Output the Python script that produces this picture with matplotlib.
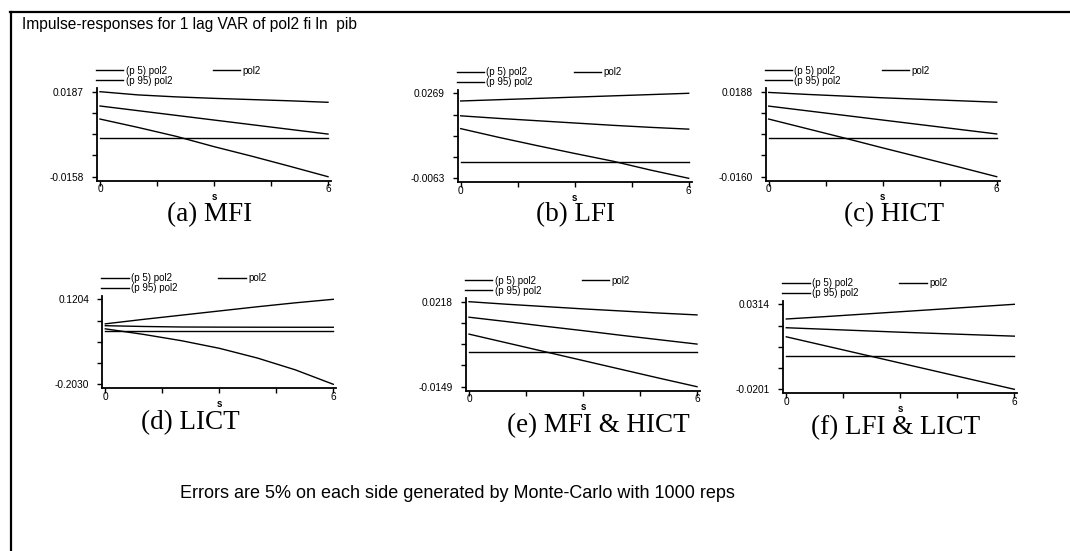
import numpy as np
import matplotlib
matplotlib.use("Agg")
import matplotlib.pyplot as plt
from matplotlib.lines import Line2D

plt.rcParams["font.family"] = ["Liberation Sans", "DejaVu Sans"]

# impulse response step
steps = [0, 1, 2, 3, 4, 5, 6]

captions = ["(a) MFI", "(b) LFI", "(c) HICT", "(d) LICT", "(e) MFI & HICT", "(f) LFI & LICT"]

# upper band (p95), response (pol2), lower band (p5) for each panel
mfi_p95 = [0.0187, 0.0174, 0.0166, 0.0160, 0.0155, 0.0150, 0.0144]
mfi_irf = [0.0129, 0.0110, 0.0091, 0.0072, 0.0053, 0.0034, 0.0015]
mfi_p5 = [0.0076, 0.0042, 0.0006, -0.0036, -0.0075, -0.0116, -0.0158]

lfi_p95 = [0.0239, 0.0244, 0.0249, 0.0254, 0.0259, 0.0264, 0.0269]
lfi_irf = [0.0181, 0.0171, 0.0162, 0.0153, 0.0144, 0.0136, 0.0129]
lfi_p5 = [0.0131, 0.0097, 0.0065, 0.0034, 0.0004, -0.0031, -0.0063]

hict_p95 = [0.0185, 0.0177, 0.0170, 0.0163, 0.0157, 0.0151, 0.0145]
hict_irf = [0.0129, 0.0110, 0.0091, 0.0072, 0.0053, 0.0034, 0.0015]
hict_p5 = [0.0076, 0.0037, -0.0002, -0.0042, -0.0081, -0.0120, -0.0160]

lict_p95 = [0.0270, 0.0440, 0.0600, 0.0760, 0.0920, 0.1070, 0.1204]
lict_irf = [0.0200, 0.0170, 0.0150, 0.0145, 0.0142, 0.0140, 0.0140]
lict_p5 = [0.0080, -0.0130, -0.0370, -0.0660, -0.1030, -0.1480, -0.2030]

mh_p95 = [0.0218, 0.0207, 0.0197, 0.0187, 0.0178, 0.0169, 0.0161]
mh_irf = [0.0151, 0.0132, 0.0112, 0.0093, 0.0073, 0.0054, 0.0035]
mh_p5 = [0.0078, 0.0040, 0.0002, -0.0036, -0.0074, -0.0112, -0.0149]

ll_p95 = [0.0225, 0.0239, 0.0254, 0.0269, 0.0284, 0.0299, 0.0314]
ll_irf = [0.0172, 0.0163, 0.0154, 0.0145, 0.0137, 0.0129, 0.0121]
ll_p5 = [0.0117, 0.0064, 0.0011, -0.0042, -0.0095, -0.0148, -0.0201]

# labelled y-axis range of each panel
y_top = [0.0187, 0.0269, 0.0188, 0.1204, 0.0218, 0.0314]
y_bottom = [-0.0158, -0.0063, -0.0160, -0.2030, -0.0149, -0.0201]

panels = [
    (mfi_p95, mfi_irf, mfi_p5),
    (lfi_p95, lfi_irf, lfi_p5),
    (hict_p95, hict_irf, hict_p5),
    (lict_p95, lict_irf, lict_p5),
    (mh_p95, mh_irf, mh_p5),
    (ll_p95, ll_irf, ll_p5),
]

W, H = 1070, 551
fig = plt.figure(figsize=(W / 100, H / 100), dpi=100)

# layout in pixels: y-axis x, top tick y, caption centre
axis_x = [97, 457.7, 765.7, 102.3, 466, 783.3]
tick_top = [91.7, 93.3, 91.7, 299.3, 301.7, 304.3]
cap_xy = [(210, 215), (575, 215), (894, 215), (190, 423), (598, 426), (896, 428)]

TICK_SPAN = 85.0

for i, (p95, irf, p5) in enumerate(panels):
    left = axis_x[i] / W
    top_px = tick_top[i] - 3.5
    bot_px = tick_top[i] + TICK_SPAN + 4
    ax_h = bot_px - top_px
    ax = fig.add_axes([left, 1 - bot_px / H, 234 / W, ax_h / H])

    l95, = ax.plot(steps, p95, color="black", lw=1.0)
    lirf, = ax.plot(steps, irf, color="black", lw=1.0)
    l5, = ax.plot(steps, p5, color="black", lw=1.0)
    ax.plot([steps[0], steps[-1]], [0, 0], color="black", lw=1.0)

    lo, hi = y_bottom[i], y_top[i]
    pp = (hi - lo) / TICK_SPAN
    ax.set_ylim(lo - 4 * pp, hi + 3.5 * pp)
    ax.set_xlim(-3 / 38, 6 + 3 / 38)

    ax.set_yticks(np.linspace(lo, hi, 5))
    ax.set_yticklabels(["%.4f" % lo, "", "", "", "%.4f" % hi])
    ax.set_xticks([0, 1.5, 3, 4.5, 6])
    ax.set_xticklabels(["0", "", "", "", "6"])
    ax.tick_params(axis="y", direction="out", length=3.5, width=1, pad=6, labelsize=7.3)
    ax.tick_params(axis="x", direction="out", length=3.5, width=1, pad=-1, labelsize=7.3)
    ax.set_xlabel("s", fontsize=7, fontweight="bold")
    ax.xaxis.set_label_coords(0.5, -11 / ax_h)

    for side in ["top", "right"]:
        ax.spines[side].set_visible(False)
    for side in ["left", "bottom"]:
        ax.spines[side].set_linewidth(1.3)
    ax.patch.set_alpha(0)

    ax.legend([l5, l95, lirf], ["(p 5) pol2", "(p 95) pol2", "pol2"], ncol=2,
              loc="upper left",
              bbox_to_anchor=((axis_x[i] - 1) / W, 1 - (tick_top[i] - 26) / H),
              bbox_transform=fig.transFigure, frameon=False, fontsize=7,
              handlelength=2.8, handletextpad=0.25, columnspacing=4.2,
              labelspacing=-0.02, borderpad=0, borderaxespad=0)

    cx, cy = cap_xy[i]
    fig.text(cx / W, 1 - cy / H, captions[i], ha="center", va="center",
             family="Liberation Serif", fontsize=19.5)

# outer frame (top and left edges)
fig.add_artist(Line2D([10 / W, 1], [1 - 12 / H, 1 - 12 / H], color="black", lw=1.6))
fig.add_artist(Line2D([11 / W, 11 / W], [1 - 12 / H, 0], color="black", lw=1.6))

fig.text(22 / W, 1 - 24 / H, "Impulse-responses for 1 lag VAR of pol2 fi ln  pib",
         ha="left", va="center", fontsize=11.2)
fig.text(457 / W, 1 - 493 / H,
         "Errors are 5% on each side generated by Monte-Carlo with 1000 reps",
         ha="center", va="center", fontsize=13)

fig.savefig("out.png", dpi=100)
